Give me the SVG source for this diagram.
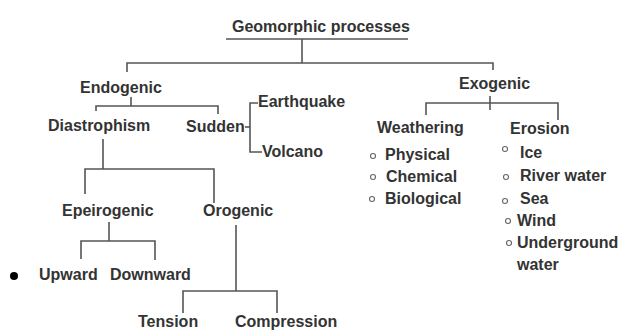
<svg xmlns="http://www.w3.org/2000/svg" width="626" height="330" viewBox="0 0 626 330">
<style>
text{font-family:"Liberation Sans",Arial,sans-serif;font-weight:bold;font-size:16px;fill:#333}
.c line,.c polyline{stroke:#555;stroke-width:1.6;fill:none}
.b{fill:none;stroke:#666;stroke-width:1.1}
</style>
<rect width="626" height="330" fill="#fff"/>
<g class="c" id="connectors">
<line x1="226" y1="39" x2="408" y2="39"/>
<line x1="302" y1="39" x2="302" y2="63"/>
<polyline points="127,72 127,63 493,63 493,70"/>
<line x1="131" y1="97" x2="131" y2="106"/>
<polyline points="96,111 96,106 218,106 218,114"/>
<line x1="245" y1="127" x2="250" y2="127"/>
<polyline points="258,103 250,103 250,152 262,152"/>
<line x1="103" y1="139" x2="103" y2="169"/>
<polyline points="85,194 85,169 214,169 214,203"/>
<line x1="109" y1="222" x2="109" y2="241"/>
<polyline points="81,259 81,241 155,241 155,260"/>
<line x1="236" y1="225" x2="236" y2="291"/>
<polyline points="183,313 183,291 277,291 277,313"/>
<line x1="490" y1="96" x2="490" y2="110"/>
<polyline points="426,115 426,103 558,103 558,120"/>
</g>
<g id="title"><text x="232" y="32">Geomorphic processes</text></g>
<g id="endogenic"><text x="80" y="93">Endogenic</text></g>
<g id="diastrophism"><text x="48" y="131">Diastrophism</text></g>
<g id="sudden"><text x="186" y="132">Sudden</text></g>
<g id="earthquake"><text x="258" y="107">Earthquake</text></g>
<g id="volcano"><text x="262" y="157">Volcano</text></g>
<g id="epeirogenic"><text x="62" y="216">Epeirogenic</text></g>
<g id="orogenic"><text x="203" y="216">Orogenic</text></g>
<g id="upward"><circle cx="14" cy="276" r="4" fill="#000"/><text x="39" y="280">Upward</text></g>
<g id="downward"><text x="110" y="280">Downward</text></g>
<g id="tension"><text x="138" y="327">Tension</text></g>
<g id="compression"><text x="235" y="327">Compression</text></g>
<g id="exogenic"><text x="459" y="89">Exogenic</text></g>
<g id="weathering"><text x="377" y="133">Weathering</text>
<circle class="b" cx="373" cy="156" r="2.5"/><text x="385" y="160">Physical</text>
<circle class="b" cx="373" cy="177" r="2.5"/><text x="386" y="182">Chemical</text>
<circle class="b" cx="372" cy="199" r="2.5"/><text x="385" y="204">Biological</text>
</g>
<g id="erosion"><text x="510" y="134">Erosion</text>
<circle class="b" cx="505" cy="149" r="2.5"/><text x="520" y="158">Ice</text>
<circle class="b" cx="506" cy="177" r="2.5"/><text x="520" y="181">River water</text>
<circle class="b" cx="505" cy="201" r="2.5"/><text x="520" y="204">Sea</text>
<circle class="b" cx="508" cy="221" r="2.5"/><text x="517" y="226">Wind</text>
<circle class="b" cx="509" cy="243" r="2.5"/><text x="517" y="248">Underground</text>
<text x="517" y="270">water</text>
</g>
</svg>
